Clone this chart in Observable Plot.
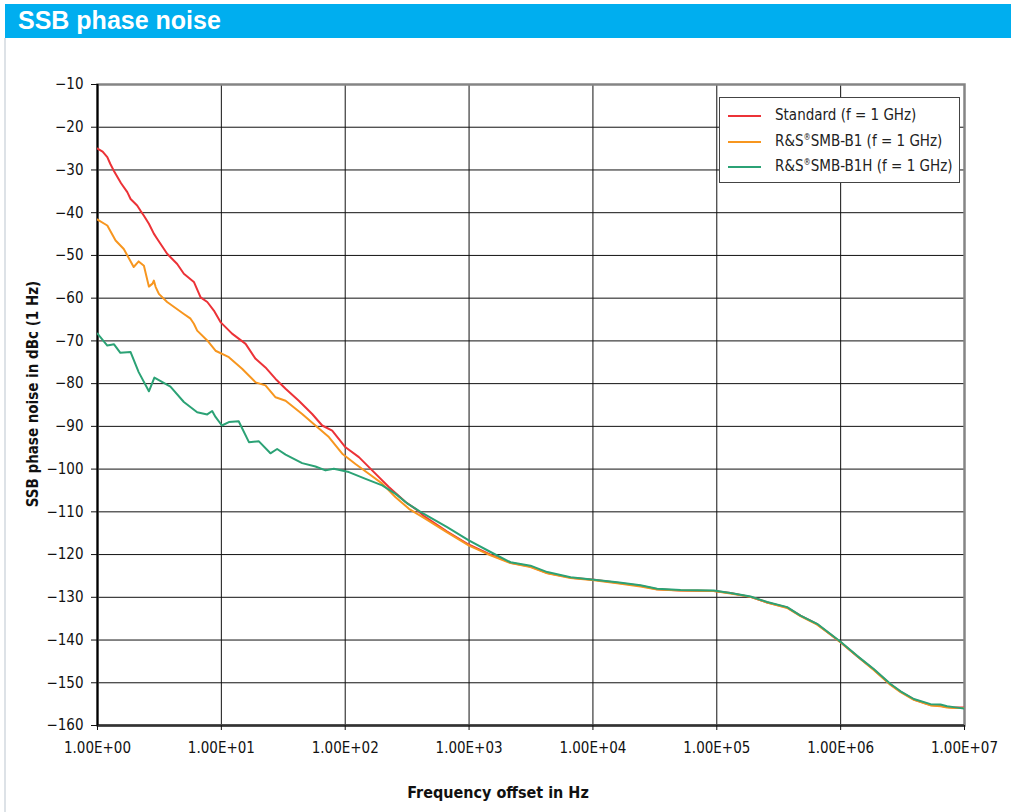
<!DOCTYPE html>
<html><head><meta charset="utf-8">
<script src="https://cdn.jsdelivr.net/npm/d3@7"></script>
<script src="https://cdn.jsdelivr.net/npm/@observablehq/plot@0.6"></script>
<style>
body{margin:0;background:#fff;width:1011px;height:812px;position:relative;overflow:hidden;font-family:"Liberation Sans Narrow","DejaVu Sans Condensed","Liberation Sans",sans-serif;}
#bar{position:absolute;left:5px;top:4px;width:1006px;height:34px;background:#00aeef;}
#bar span{position:absolute;left:13px;top:2px;color:#fff;font:bold 25px "Liberation Sans",Arial,sans-serif;}
#edge{position:absolute;left:4px;top:38px;width:2px;height:774px;background:#dde2e7;}
#chart{position:absolute;left:0;top:40px;}
#legend{position:absolute;left:719px;top:97px;width:241px;height:86px;border:1px solid #444;background:#fff;box-sizing:border-box;}
.row{position:absolute;left:0;height:20px;font-size:15px;color:#222;white-space:nowrap;}
.row i{position:absolute;left:8px;top:9px;width:33px;height:2px;}
.row span{position:absolute;left:55px;top:0;}
sup{font-size:8px;vertical-align:6px;}
#ylab{position:absolute;left:33px;top:394px;transform:translate(-50%,-50%) rotate(-90deg);font-weight:bold;font-size:15px;white-space:nowrap;color:#111;}
#xlab{position:absolute;left:498px;top:792px;transform:translate(-50%,-50%);font-weight:bold;font-size:16px;white-space:nowrap;color:#111;}
</style>
</head><body>
<div id="bar"><span>SSB phase noise</span></div>
<div id="edge"></div>
<div id="chart"></div>
<div id="ylab">SSB phase noise in dBc (1 Hz)</div>
<div id="xlab">Frequency offset in Hz</div>
<div id="legend"></div>
<script>
// ---- Data ----
const seriesNames = ["Standard (f = 1 GHz)", "R&S®SMB-B1 (f = 1 GHz)", "R&S®SMB-B1H (f = 1 GHz)"];
const seriesColors = ["#ec3237", "#f7961f", "#2ba275"];

const tailFreq = [3130, 4280, 6590, 10200, 15700, 24200, 33000, 50900, 94600, 129000, 187000, 255000, 370000, 474000, 646000, 828000, 998000, 1360000, 1850000, 2530000, 3050000, 3900000, 5320000, 6400000, 7240000, 8200000, 9890000];

const stdFreq = [1, 1.1, 1.2, 1.27, 1.35, 1.55, 1.74, 1.85, 2.09, 2.22, 2.37, 2.6, 2.85, 3.03, 3.65, 4.4, 4.98, 6.0, 6.8, 7.7, 8.7, 9.84, 12.2, 15.7, 18.9, 22.7, 27.4, 33.0, 42.2, 54.1, 65.2, 78.5, 100.5, 129, 165, 225, 307, 369, 432, 665, 1000, 1490, 2160].concat(tailFreq);
const stdVal = [-25.0, -25.7, -27.0, -28.6, -30.1, -33.1, -35.2, -36.8, -38.3, -39.5, -40.7, -42.6, -44.9, -46.1, -49.6, -52.0, -54.3, -56.2, -59.8, -60.9, -62.9, -65.6, -68.3, -70.7, -74.2, -76.2, -78.9, -81.2, -84.0, -87.1, -89.8, -91.0, -94.9, -97.2, -100.3, -104.2, -107.7, -109.3, -111.0, -114.6, -117.7, -120.0, -121.9,
  -122.8, -124.3, -125.4, -125.9, -126.6, -127.3, -128.1, -128.4, -128.5, -129.0, -129.9, -131.2, -132.4, -134.3, -136.3, -138.7, -140.5, -143.8, -146.9, -150.4, -152.1, -153.9, -155.2, -155.4, -155.7, -155.8, -155.8];

const b1Freq = [1, 1.2, 1.4, 1.63, 1.96, 2.15, 2.37, 2.6, 2.78, 2.85, 2.95, 3.13, 3.65, 4.98, 5.64, 6.0, 6.38, 7.69, 8.97, 11.5, 14.7, 18.9, 22.7, 27.4, 33.0, 44.9, 57.5, 73.8, 94.6, 121, 155, 199, 255, 327, 432, 665, 1000, 1490, 2160].concat(tailFreq);
const b1Val = [-41.6, -43.0, -46.5, -48.5, -52.7, -51.4, -52.4, -57.3, -56.6, -55.9, -57.4, -59.0, -60.9, -63.7, -64.8, -66.0, -67.6, -69.9, -72.3, -73.8, -76.5, -79.7, -80.4, -83.2, -84.0, -87.1, -89.8, -92.5, -96.4, -98.8, -101.1, -103.4, -106.6, -109.3, -111.4, -114.8, -117.9, -120.2, -122.0,
  -122.9, -124.4, -125.5, -126.0, -126.7, -127.5, -128.2, -128.4, -128.5, -129.1, -129.9, -131.2, -132.5, -134.4, -136.4, -138.7, -140.5, -143.8, -147.0, -150.5, -152.2, -154.0, -155.3, -155.5, -155.8, -155.9, -155.9];

const b1hFreq = [1, 1.2, 1.36, 1.53, 1.85, 2.15, 2.6, 2.88, 3.88, 4.98, 6.38, 7.69, 8.43, 8.97, 10.1, 11.5, 13.8, 16.7, 20.1, 24.9, 28.2, 33.0, 44.9, 57.5, 69.3, 80.9, 107, 146, 199, 255, 316, 432, 665, 995, 1490, 2160].concat(tailFreq);
const b1hVal = [-68.3, -71.1, -70.8, -72.8, -72.6, -77.3, -81.8, -78.6, -80.7, -84.3, -86.7, -87.2, -86.4, -87.8, -89.8, -89.0, -88.8, -93.7, -93.5, -96.3, -95.3, -96.6, -98.6, -99.4, -100.3, -99.9, -100.7, -102.3, -103.8, -105.8, -108.0, -110.5, -113.6, -116.7, -119.4, -121.8,
  -122.6, -124.1, -125.3, -125.9, -126.5, -127.2, -128.0, -128.3, -128.4, -129.0, -129.8, -131.1, -132.3, -134.3, -136.2, -138.6, -140.4, -143.7, -146.8, -150.3, -152.0, -153.8, -155.0, -155.1, -155.5, -155.7, -156.0];

const xTicks = [1, 10, 100, 1000, 10000, 100000, 1000000, 10000000];
const xTickLabels = ["1.00E+00", "1.00E+01", "1.00E+02", "1.00E+03", "1.00E+04", "1.00E+05", "1.00E+06", "1.00E+07"];
const yTicks = [-10, -20, -30, -40, -50, -60, -70, -80, -90, -100, -110, -120, -130, -140, -150, -160];

// ---- Build tables ----
const rows = (fs, vs) => fs.map((f, i) => ({f, v: vs[i]}));
const series = [rows(stdFreq, stdVal), rows(b1Freq, b1Val), rows(b1hFreq, b1hVal)];

const font = '"Liberation Sans Narrow","DejaVu Sans Condensed","Liberation Sans",sans-serif';
const plot = Plot.plot({
  width: 1011, height: 772,
  marginLeft: 97, marginRight: 47, marginTop: 44, marginBottom: 87,
  style: {fontFamily: font, fontSize: "15px", color: "#111", background: "transparent"},
  x: {type: "log", domain: [1, 1e7]},
  y: {domain: [-160, -10]},
  marks: [
    Plot.gridX(xTicks, {stroke: "#111", strokeOpacity: 1, strokeWidth: 1}),
    Plot.gridY(yTicks, {stroke: "#111", strokeOpacity: 1, strokeWidth: 1}),
    Plot.frame({stroke: "#858585", strokeWidth: 2.5}),
    Plot.ruleY([-160], {stroke: "#333", strokeWidth: 2.5}),
    Plot.ruleX([1], {stroke: "#000", strokeWidth: 2}),
    ...series.map((d, i) => Plot.line(d, {x: "f", y: "v", stroke: seriesColors[i], strokeWidth: 2, clip: true})),
    Plot.axisX(xTicks, {tickFormat: d => xTickLabels[xTicks.indexOf(d)], tickSize: 5, tickPadding: 12, label: null, stroke: "#111", fontSize: 15}),
    Plot.axisY(yTicks, {tickSize: 6, tickPadding: 8, label: null, stroke: "#111", fontSize: 15})
  ]
});
document.getElementById("chart").appendChild(plot);

// ---- Legend ----
const leg = document.getElementById("legend");
seriesNames.forEach((name, i) => {
  const r = document.createElement("div");
  r.className = "row";
  r.style.top = (8 + i * 25.5) + "px";
  r.innerHTML = `<i style="background:${seriesColors[i]}"></i><span>${name.replace("®", "<sup>®</sup>")}</span>`;
  leg.appendChild(r);
});
</script>
</body></html>
